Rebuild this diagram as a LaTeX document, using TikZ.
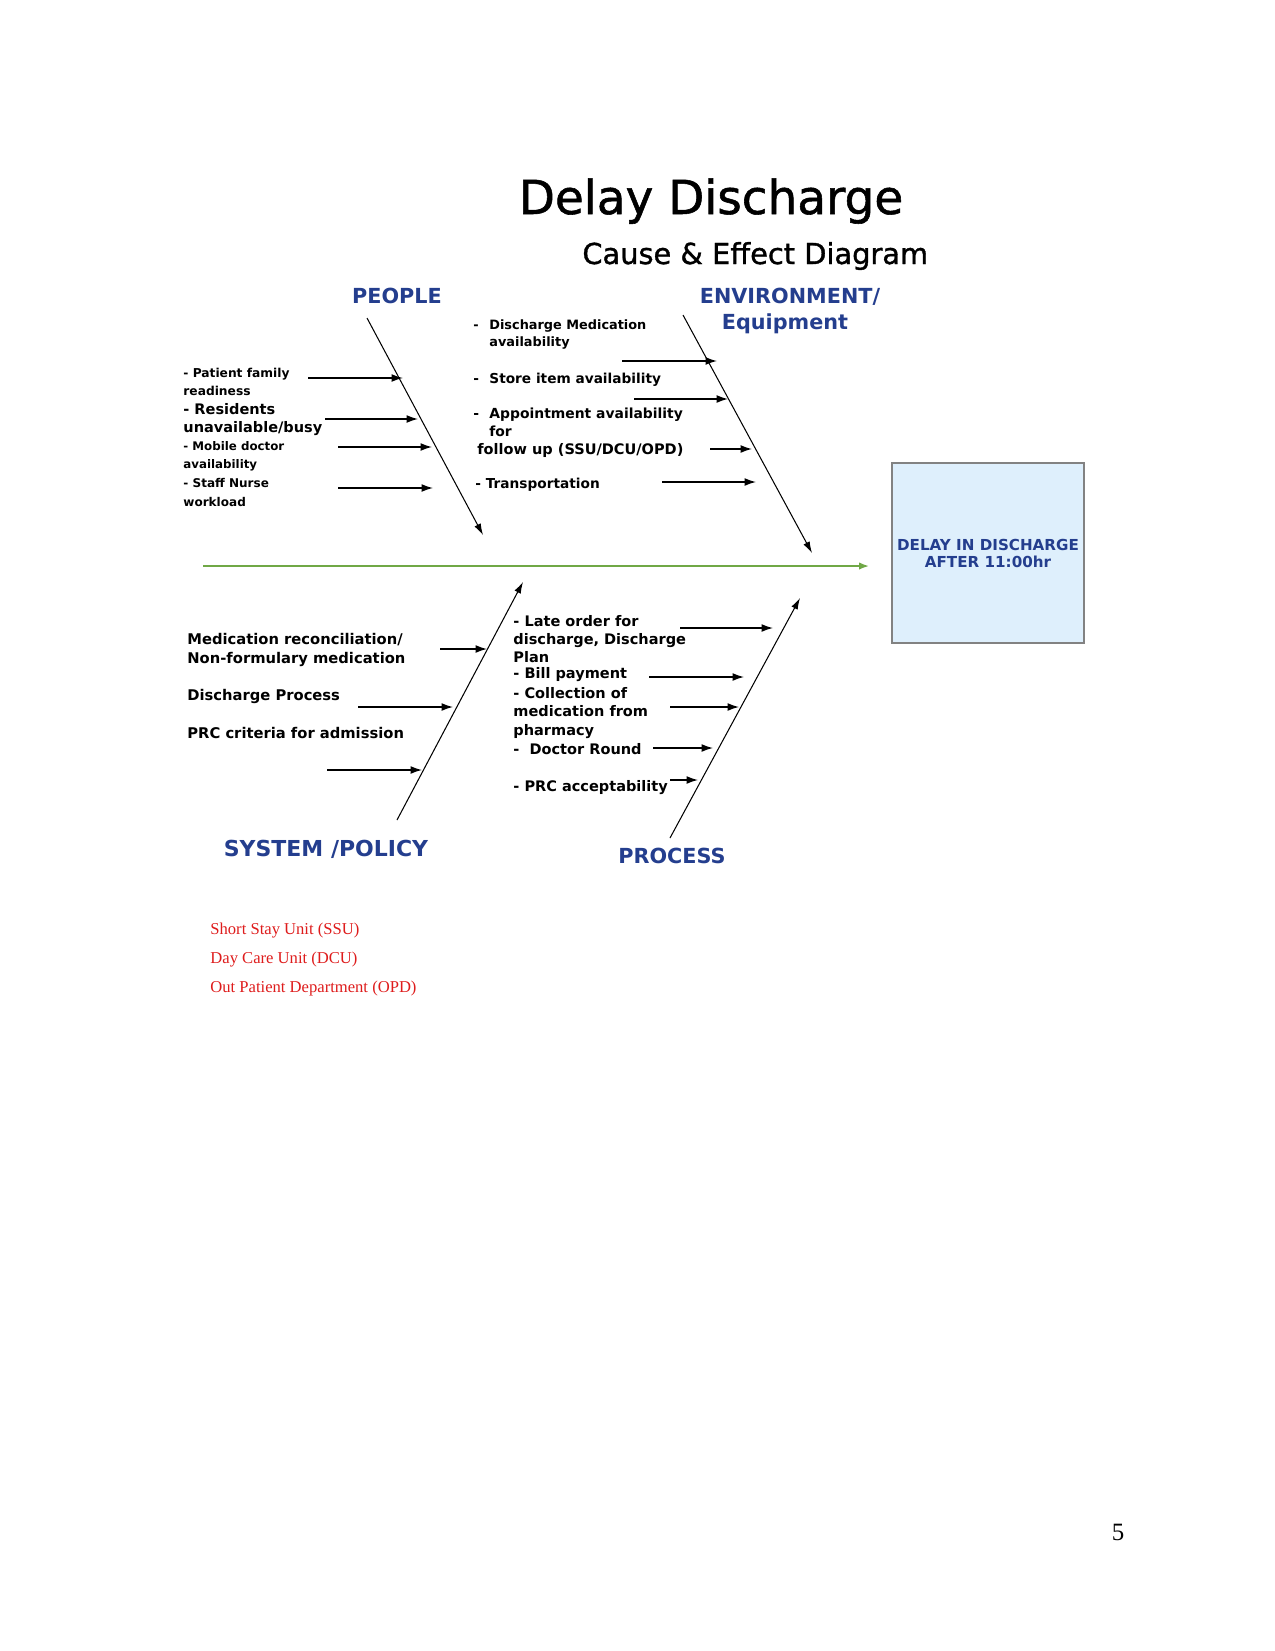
\documentclass[tikz,border=0pt]{standalone}
\usepackage{xcolor}
\usepackage{fontspec}
\setmainfont{Liberation Serif}
\newfontfamily\diagfont{DejaVu Sans}
\newfontfamily\titlefont{DejaVu Sans}[FakeBold=1.2]
\usepackage{tikz}
\usetikzlibrary{arrows.meta}

\definecolor{headblue}{RGB}{36,62,142}
\definecolor{spinegreen}{RGB}{112,168,70}
\definecolor{boxfill}{RGB}{222,239,252}
\definecolor{boxline}{RGB}{130,130,130}
\definecolor{notered}{RGB}{222,28,28}

\tikzset{
  cause/.style={-{Latex[length=5.5pt,width=3.8pt]}, line width=0.65pt},
  bone/.style={-{Latex[length=5.5pt,width=3.4pt]}, line width=0.5pt},
  head/.style={font=\diagfont\bfseries\fontsize{10}{12}\selectfont, text=headblue, inner sep=0pt, anchor=base},
  item/.style={font=\diagfont\bfseries\fontsize{#1}{8.7}\selectfont, align=left, anchor=west, inner sep=0pt},
  item/.default=7,
  note/.style={font=\fontsize{8}{10}\selectfont, text=notered, anchor=base west, inner sep=0pt}
}

\begin{document}
\begin{tikzpicture}[x=0.016933cm, y=-0.016933cm]
\useasboundingbox (0,0) rectangle (1275,1651);
% titles
\node[anchor=base, inner sep=0pt, font=\titlefont\fontsize{22.6}{27}\selectfont] (title) at (711,214) {Delay Discharge};
\node[anchor=base west, inner sep=0pt, font=\titlefont\fontsize{13.9}{17}\selectfont] (subtitle) at (582,264) {Cause \& Effect Diagram};
\node[head] (people) at (397,303) {PEOPLE};
\node[head] (envir) at (790,303) {ENVIRONMENT/};
\node[head] (equip) at (785,329) {Equipment};
\node[head, font=\diagfont\bfseries\fontsize{10.6}{12}\selectfont] (system) at (326,856) {SYSTEM /POLICY};
\node[head] (process) at (672,863) {PROCESS};
% effect
\node[draw=boxline, fill=boxfill, line width=0.8pt, minimum width=92.5pt, minimum height=86.7pt,
  inner sep=0pt, align=center, text=headblue, font=\diagfont\bfseries\fontsize{7.3}{8.2}\selectfont] (effect) at (988,553) {DELAY IN DISCHARGE\\AFTER 11:00hr};
% spine
\coordinate (spine) at (203,566);
\draw[spinegreen, line width=1pt, -{Latex[length=5pt,width=3.6pt]}, shorten >=10.5pt] (spine) -- (spine -| effect.west);
% bones
\coordinate (peopleTop) at (367,318);
\coordinate (peopleEnd) at (483,535);
\coordinate (envTop) at (683,315);
\coordinate (envEnd) at (812,553);
\coordinate (sysBot) at (397,820);
\coordinate (sysEnd) at (523,582);
\coordinate (procBot) at (670,838);
\coordinate (procEnd) at (800,598);
\draw[bone] (peopleTop) -- (peopleEnd);
\draw[bone] (envTop) -- (envEnd);
\draw[bone] (sysBot) -- (sysEnd);
\draw[bone] (procBot) -- (procEnd);

% people causes
\node[item=5.9] (family) at (183,382) {- Patient family\\readiness};
\node[item=7] (resident) at (183,419.5) {-\ Residents\\unavailable/busy};
\node[item=5.7] (mobile) at (183,456) {- Mobile doctor\\availability};
\node[item=5.8] (nurse) at (183,492.5) {- Staff Nurse\\workload};
\coordinate (p1a) at (308,378); \coordinate (p1b) at (403,378);
\coordinate (p2a) at (325,419); \coordinate (p2b) at (418,419);
\coordinate (p3a) at (338,447); \coordinate (p3b) at (432,447);
\coordinate (p4a) at (338,488); \coordinate (p4b) at (433,488);
\draw[cause] (p1a) -- (p1b);
\draw[cause] (p2a) -- (p2b);
\draw[cause] (p3a) -- (p3b);
\draw[cause] (p4a) -- (p4b);

% environment causes
\node[item=6.2, font=\diagfont\bfseries\fontsize{6.2}{8.2}\selectfont] (dischmed) at (473,334.5) {\makebox[7.7pt][l]{-}Discharge Medication\\\hspace*{7.7pt}availability};
\node[item=6.6] (store) at (473,380) {\makebox[7.7pt][l]{-}Store item availability};
\node[item=6.7] (appoint) at (473,433) {\makebox[7.7pt][l]{-}Appointment availability\\\hspace*{7.7pt}for\\\hspace*{1.9pt}{\fontsize{7}{8.7}\selectfont follow up (SSU/DCU/OPD)}};
\node[item=6.6] (transport) at (475,485) {- Transportation};
\coordinate (e1a) at (622,361); \coordinate (e1b) at (717,361);
\coordinate (e2a) at (634,399); \coordinate (e2b) at (728,399);
\coordinate (e3a) at (710,449); \coordinate (e3b) at (752,449);
\coordinate (e4a) at (662,482); \coordinate (e4b) at (756,482);
\draw[cause] (e1a) -- (e1b);
\draw[cause] (e2a) -- (e2b);
\draw[cause] (e3a) -- (e3b);
\draw[cause] (e4a) -- (e4b);

% system / policy causes
\node[item=7.1] (reconcile) at (187,650) {Medication reconciliation/\\Non-formulary medication};
\node[item=7.1] (dischproc) at (187,696) {Discharge Process};
\node[item=7.1] (prccrit) at (187,733) {PRC criteria for admission};
\coordinate (s1a) at (440,649); \coordinate (s1b) at (487,649);
\coordinate (s2a) at (358,707); \coordinate (s2b) at (453,707);
\coordinate (s3a) at (327,770); \coordinate (s3b) at (422,770);
\draw[cause] (s1a) -- (s1b);
\draw[cause] (s2a) -- (s2b);
\draw[cause] (s3a) -- (s3b);

% process causes
\node[item=7] (lateorder) at (513,639) {- Late order for\\discharge, Discharge\\Plan};
\node[item=7] (bill) at (513,675) {- Bill payment};
\node[item=7] (collect) at (513,713) {- Collection of\\medication from\\pharmacy};
\node[item=7] (round) at (513,749) {-~~Doctor Round};
\node[item=7] (prcaccept) at (513,788) {- PRC acceptability};
\coordinate (r1a) at (680,628); \coordinate (r1b) at (773,628);
\coordinate (r2a) at (649,677); \coordinate (r2b) at (744,677);
\coordinate (r3a) at (670,707); \coordinate (r3b) at (739,707);
\coordinate (r4a) at (653,748); \coordinate (r4b) at (713,748);
\coordinate (r5a) at (670,780); \coordinate (r5b) at (698,780);
\draw[cause] (r1a) -- (r1b);
\draw[cause] (r2a) -- (r2b);
\draw[cause] (r3a) -- (r3b);
\draw[cause] (r4a) -- (r4b);
\draw[cause] (r5a) -- (r5b);

% abbreviations
\node[note] (ssu) at (210,934) {Short Stay Unit (SSU)};
\node[note] (dcu) at (210,963) {Day Care Unit (DCU)};
\node[note] (opd) at (210,992) {Out Patient Department (OPD)};
\node[anchor=base, inner sep=0pt, font=\fontsize{12}{14}\selectfont] (pagenum) at (1118,1540) {5};
\end{tikzpicture}
\end{document}
